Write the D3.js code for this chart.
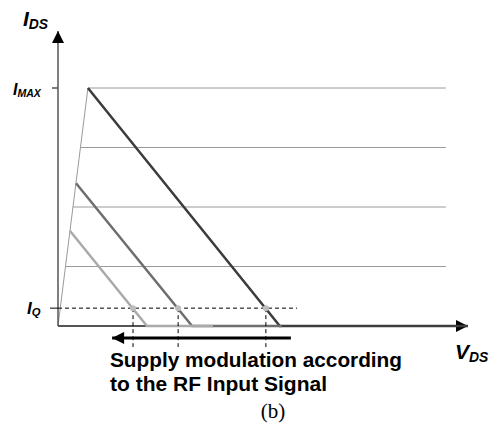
<!DOCTYPE html>
<html>
<head>
<meta charset="utf-8">
<script src="https://cdn.jsdelivr.net/npm/d3@7"></script>
<style>
  body { margin: 0; background: #fff; }
  text { font-family: "Liberation Sans", Arial, sans-serif; }
</style>
</head>
<body>
<div class="chart"></div>
<script>
// load lines (V_DS, I_DS in normalised units)
const curves = ["low", "mid", "high"];
const kneeV = [0.29, 0.44, 0.73];
const kneeI = [0.40, 0.60, 1.0];
const cutoffV = [2.17, 3.27, 5.41];
const flatEndV = [3.78, 5.46, 10];
const iqCrossV = [1.83, 2.93, 5.07];
const curveColors = ["#aaaaaa", "#6e6e6e", "#3c3c3c"];

// horizontal current levels
const gridI = [1.0, 0.75, 0.5, 0.25];
const gridEndV = 9.46;
const kneeSlope = 0.73; // V of knee line at I = 1
const iQ = 0.075;
const iqEndV = 5.83;

const width = 496;
const height = 426;

const x = d3.scaleLinear().domain([0, 10]).range([58, 468]);
const y = d3.scaleLinear().domain([0, 1]).range([326, 88]);

const svg = d3.select(".chart")
    .append("svg")
    .attr("width", width)
    .attr("height", height);

svg.append("defs").append("marker")
    .attr("id", "head")
    .attr("viewBox", "0 0 10 10")
    .attr("refX", 10).attr("refY", 5)
    .attr("markerUnits", "userSpaceOnUse")
    .attr("markerWidth", 17).attr("markerHeight", 12)
    .attr("orient", "auto")
    .append("path")
    .attr("d", "M0,0L10,5L0,10Z")
    .attr("fill", "#000");

// grid levels
svg.selectAll(".grid")
    .data(gridI)
    .enter()
    .append("line")
    .attr("x1", d => x(kneeSlope * d))
    .attr("x2", x(gridEndV))
    .attr("y1", d => y(d))
    .attr("y2", d => y(d))
    .attr("stroke", "#9a9a9a")
    .attr("stroke-width", 1);

// knee line
svg.append("line")
    .attr("x1", x(0)).attr("y1", y(0))
    .attr("x2", x(kneeSlope)).attr("y2", y(1))
    .attr("stroke", "#9a9a9a")
    .attr("stroke-width", 1);

// axes
svg.append("line")
    .attr("x1", x(0)).attr("y1", y(0))
    .attr("x2", x(0)).attr("y2", y(1.24))
    .attr("stroke", "#555")
    .attr("stroke-width", 1.5)
    .attr("marker-end", "url(#head)");

svg.append("line")
    .attr("x1", x(0)).attr("y1", y(0))
    .attr("x2", x(10)).attr("y2", y(0))
    .attr("stroke", "#555")
    .attr("stroke-width", 2)
    .attr("marker-end", "url(#head)");

// load lines, drawn high first so low sits on top along axis
const order = [2, 1, 0];
order.forEach(i => {
    svg.append("path")
        .attr("d", d3.line()([
            [x(kneeV[i]), y(kneeI[i])],
            [x(cutoffV[i]), y(0)],
            [x(flatEndV[i]), y(0)]
        ]))
        .attr("fill", "none")
        .attr("stroke", curveColors[i])
        .attr("stroke-width", 2.5);
});

// I_Q dashed level
svg.append("line")
    .attr("x1", x(0) - 8).attr("x2", x(0))
    .attr("y1", y(iQ)).attr("y2", y(iQ))
    .attr("stroke", "#000");
svg.append("line")
    .attr("x1", x(0)).attr("x2", x(iqEndV))
    .attr("y1", y(iQ)).attr("y2", y(iQ))
    .attr("stroke", "#000")
    .attr("stroke-dasharray", "4,3");

// I_MAX tick
svg.append("line")
    .attr("x1", x(0) - 6).attr("x2", x(0))
    .attr("y1", y(1)).attr("y2", y(1))
    .attr("stroke", "#555").attr("stroke-width", 1.5);

// modulation arrow
svg.append("line")
    .attr("x1", x(5.68)).attr("x2", x(1.32))
    .attr("y1", y(-0.05)).attr("y2", y(-0.05))
    .attr("stroke", "#000")
    .attr("stroke-width", 3)
    .attr("marker-end", "url(#head)");

// vertical dashed at I_Q crossings
svg.selectAll(".vd")
    .data(iqCrossV)
    .enter()
    .append("line")
    .attr("x1", d => x(d)).attr("x2", d => x(d))
    .attr("y1", y(iQ)).attr("y2", y(-0.088))
    .attr("stroke", "#000")
    .attr("stroke-dasharray", "4,3");

svg.selectAll(".dot")
    .data(iqCrossV)
    .enter()
    .append("circle")
    .attr("cx", d => x(d))
    .attr("cy", y(iQ))
    .attr("r", 3)
    .attr("fill", "#bdbdbd");

// labels
function subLabel(xp, yp, main, sub, size, ratio) {
    const t = svg.append("text")
        .attr("x", xp).attr("y", yp)
        .attr("font-weight", "bold")
        .attr("font-style", "italic")
        .attr("font-size", size);
    t.append("tspan").text(main);
    t.append("tspan").text(sub)
        .attr("font-size", size * ratio)
        .attr("dy", size * 0.12);
}
subLabel(23, 26, "I", "DS", 21, 0.66);
subLabel(13, 95, "I", "MAX", 16, 0.66);
subLabel(27, 314, "I", "Q", 17, 0.66);
subLabel(455, 359, "V", "DS", 21, 0.66);

svg.append("text")
    .attr("x", 110).attr("y", 367)
    .attr("font-weight", "bold")
    .attr("font-size", 20)
    .attr("textLength", 292)
    .attr("lengthAdjust", "spacingAndGlyphs")
    .text("Supply modulation according");
svg.append("text")
    .attr("x", 110).attr("y", 391)
    .attr("font-weight", "bold")
    .attr("font-size", 20)
    .attr("textLength", 217)
    .attr("lengthAdjust", "spacingAndGlyphs")
    .text("to the RF Input Signal");

svg.append("text")
    .attr("x", 273).attr("y", 418)
    .attr("text-anchor", "middle")
    .style("font-family", "'Liberation Serif', serif")
    .attr("font-size", 21)
    .text("(b)");
</script>
</body>
</html>
